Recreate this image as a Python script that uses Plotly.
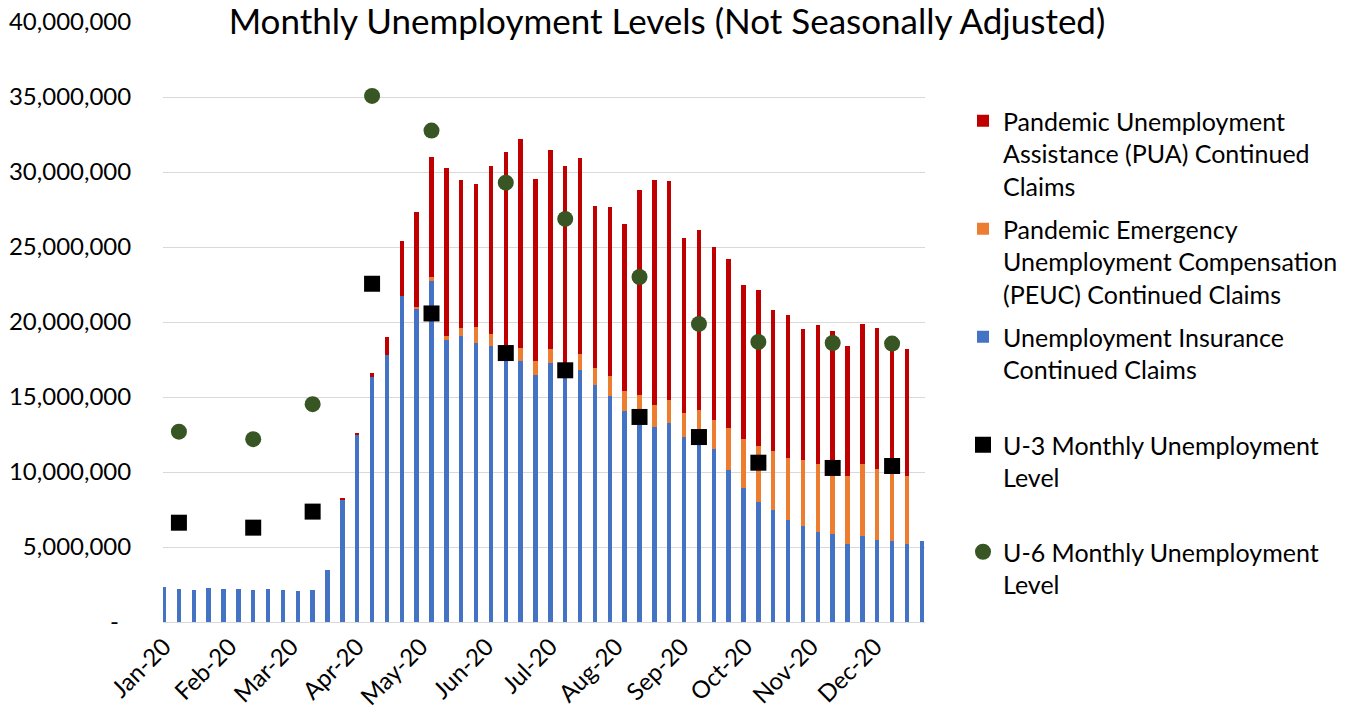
import plotly.graph_objects as go

# Week-ending dates (Saturdays) for weekly continued claims, 2020
weeks = [
    "2020-01-04", "2020-01-11", "2020-01-18", "2020-01-25",
    "2020-02-01", "2020-02-08", "2020-02-15", "2020-02-22", "2020-02-29",
    "2020-03-07", "2020-03-14", "2020-03-21", "2020-03-28",
    "2020-04-04", "2020-04-11", "2020-04-18", "2020-04-25",
    "2020-05-02", "2020-05-09", "2020-05-16", "2020-05-23", "2020-05-30",
    "2020-06-06", "2020-06-13", "2020-06-20", "2020-06-27",
    "2020-07-04", "2020-07-11", "2020-07-18", "2020-07-25",
    "2020-08-01", "2020-08-08", "2020-08-15", "2020-08-22", "2020-08-29",
    "2020-09-05", "2020-09-12", "2020-09-19", "2020-09-26",
    "2020-10-03", "2020-10-10", "2020-10-17", "2020-10-24", "2020-10-31",
    "2020-11-07", "2020-11-14", "2020-11-21", "2020-11-28",
    "2020-12-05", "2020-12-12", "2020-12-19", "2020-12-26",
]

# Unemployment Insurance continued claims
ui_claims = [
    2330000, 2210000, 2140000, 2240000, 2170000, 2170000, 2140000, 2190000, 2120000,
    2050000, 2140000, 3500000, 8170000, 12450000, 16310000, 17800000, 21760000,
    20880000, 22760000, 18830000, 19070000, 18620000, 18390000, 17400000, 17400000,
    16480000, 17290000, 16400000, 16800000, 15780000, 15090000, 14070000, 13500000,
    13030000, 13250000, 12350000, 12000000, 11530000, 10160000, 8930000, 8020000,
    7440000, 6780000, 6400000, 6000000, 5840000, 5180000, 5710000, 5440000, 5380000,
    5180000, 5400000,
]

# Pandemic Emergency Unemployment Compensation continued claims
peuc_claims = [
    0, 0, 0, 0, 0, 0, 0, 0, 0, 0, 0, 0, 0, 0, 0, 0, 0,
    140000, 240000, 220000, 530000, 1050000, 840000, 800000, 840000, 940000,
    900000, 800000, 1100000, 1150000, 1290000, 1330000, 1630000, 1440000, 1530000,
    1560000, 2110000, 1940000, 2800000, 3290000, 3690000, 3940000, 4150000,
    4380000, 4510000, 4360000, 4530000, 4800000, 4780000, 4620000, 4530000, 0,
]

# Pandemic Unemployment Assistance continued claims
pua_claims = [
    0, 0, 0, 0, 0, 0, 0, 0, 0, 0, 0, 0,
    120000, 170000, 290000, 1200000, 3640000, 6310000, 8020000, 11210000,
    9850000, 9520000, 11170000, 13130000, 13970000, 12100000, 13310000, 13180000,
    13010000, 10830000, 11310000, 11110000, 13670000, 15020000, 14600000, 11690000,
    12000000, 11530000, 11260000, 10270000, 10420000, 9440000, 9510000, 8780000,
    9270000, 9180000, 8670000, 9360000, 9400000, 8950000, 8490000, 0,
]

# Monthly levels, plotted at the survey reference week
month_weeks = [
    "2020-01-11", "2020-02-15", "2020-03-14", "2020-04-11", "2020-05-09", "2020-06-13",
    "2020-07-11", "2020-08-15", "2020-09-12", "2020-10-10", "2020-11-14", "2020-12-12",
]
u3_level = [
    6620000, 6290000, 7360000, 22550000, 20570000, 17930000,
    16780000, 13670000, 12330000, 10620000, 10270000, 10400000,
]
u6_level = [
    12690000, 12190000, 14520000, 35070000, 32760000, 29290000,
    26870000, 23000000, 19870000, 18670000, 18600000, 18560000,
]

y_ticks = [0, 5000000, 10000000, 15000000, 20000000, 25000000, 30000000, 35000000, 40000000]
y_tick_text = ["-\u00a0\u00a0"] + [f"{v:,}" for v in y_ticks[1:]]

FONT = "Lato"
TXT = "#000000"
FS = 24
LEG_FS = 25
DAY_MS = 86400000
bar_w = 2.1 * DAY_MS

# pixel helpers for layout placement (plot area 163..925 x, 22..622 y)
L, R, T, B = 163, 925, 22, 622
def px_x(p):
    return (p - L) / (R - L)
def px_y(p):
    return (B - p) / (B - T)

fig = go.Figure()
fig.add_trace(go.Bar(
    x=weeks, y=ui_claims, width=bar_w, name="Unemployment Insurance<br>Continued Claims",
    marker=dict(color="#4472C4", line_width=0), legend="legend3",
))
fig.add_trace(go.Bar(
    x=weeks, y=peuc_claims, width=bar_w,
    name="Pandemic Emergency<br>Unemployment Compensation<br>(PEUC) Continued Claims",
    marker=dict(color="#ED7D31", line_width=0), legend="legend2",
))
fig.add_trace(go.Bar(
    x=weeks, y=pua_claims, width=bar_w,
    name="Pandemic Unemployment<br>Assistance (PUA) Continued<br>Claims",
    marker=dict(color="#C00000", line_width=0), legend="legend",
))
fig.add_trace(go.Scatter(
    x=month_weeks, y=u3_level, mode="markers", name="U-3 Monthly Unemployment<br>Level",
    marker=dict(symbol="square", size=16, color="#000000"), legend="legend4",
))
fig.add_trace(go.Scatter(
    x=month_weeks, y=u6_level, mode="markers", name="U-6 Monthly Unemployment<br>Level",
    marker=dict(symbol="circle", size=16, color="#375623"), legend="legend5",
))

leg_common = dict(
    font=dict(family=FONT, size=LEG_FS, color=TXT),
    bgcolor="rgba(0,0,0,0)", borderwidth=0, valign="top",
    xanchor="left", yanchor="top", x=px_x(963),
    visible=True,
)
first_line_centers = [122, 230, 338, 446, 553]
legend_names = ["legend", "legend2", "legend3", "legend4", "legend5"]
leg_layout = {}
for nm, c in zip(legend_names, first_line_centers):
    leg_layout[nm] = dict(leg_common, y=px_y(c - 24))

fig.update_layout(
    width=1346, height=711,
    margin=dict(l=L, r=1346 - R, t=T, b=711 - B, pad=0, autoexpand=False),
    paper_bgcolor="white", plot_bgcolor="white",
    barmode="stack", bargap=0,
    showlegend=True,
    font=dict(family=FONT, size=FS, color=TXT),
    title=dict(
        text="Monthly Unemployment Levels (Not Seasonally Adjusted)",
        font=dict(family=FONT, size=35, color=TXT),
        x=667 / 1346, xanchor="center", xref="container",
        y=1 - 22 / 711, yanchor="middle", yref="container",
    ),
    xaxis=dict(
        type="date",
        range=["2020-01-03 12:00", "2020-12-27 12:00"],
        tick0="2020-01-04", dtick="M1", tickformat="%b-%y", tickangle=-45,
        showgrid=False, showline=True, linecolor="#d9d9d9", linewidth=1,
        ticks="",
        tickfont=dict(family=FONT, size=FS, color=TXT),
        zeroline=False, automargin=False,
    ),
    yaxis=dict(
        range=[0, 40000000], tickvals=y_ticks, ticktext=y_tick_text,
        showgrid=True, gridcolor="#d9d9d9", gridwidth=1,
        showline=False, zeroline=False, automargin=False,
        ticks="outside", ticklen=26, tickcolor="rgba(0,0,0,0)",
        tickfont=dict(family=FONT, size=FS, color=TXT),
    ),
    **leg_layout,
)

fig.write_html(
    "out.html",
    config={"displayModeBar": False},
    post_script="document.body.style.margin='0px';document.body.style.overflow='hidden';",
)
